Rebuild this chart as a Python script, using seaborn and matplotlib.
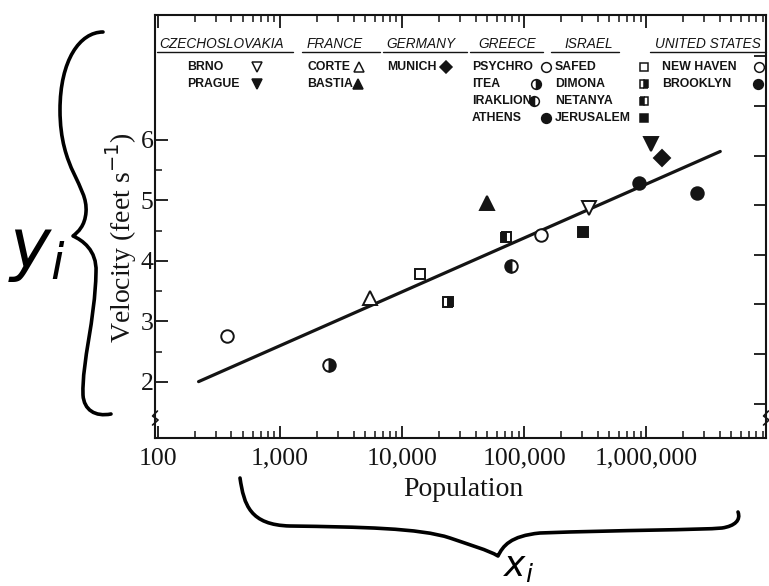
import numpy as np
import pandas as pd
import matplotlib
matplotlib.use("Agg")
import matplotlib.pyplot as plt
import seaborn as sns
from matplotlib.path import Path
from matplotlib.patches import PathPatch
from matplotlib.lines import Line2D
from matplotlib.ticker import FixedLocator, FuncFormatter, NullFormatter

# ---- data -------------------------------------------------------------
countries = ["CZECHOSLOVAKIA", "FRANCE", "GERMANY", "GREECE", "ISRAEL", "UNITED STATES"]
cities = ["BRNO", "PRAGUE", "CORTE", "BASTIA", "MUNICH",
          "PSYCHRO", "ITEA", "IRAKLION", "ATHENS",
          "SAFED", "DIMONA", "NETANYA", "JERUSALEM",
          "NEW HAVEN", "BROOKLYN"]
city_country = ["CZECHOSLOVAKIA", "CZECHOSLOVAKIA", "FRANCE", "FRANCE", "GERMANY",
                "GREECE", "GREECE", "GREECE", "GREECE",
                "ISRAEL", "ISRAEL", "ISRAEL", "ISRAEL",
                "UNITED STATES", "UNITED STATES"]
population = [342000, 1090000, 5500, 49400, 1340000,
              365, 2500, 78200, 867000,
              14000, 23700, 70700, 305000,
              138000, 2600000]
velocity = [4.88, 5.93, 3.39, 4.96, 5.71,
            2.76, 2.28, 3.92, 5.29,
            3.78, 3.32, 4.39, 4.48,
            4.43, 5.13]
marker_shape = ["v", "v", "^", "^", "D",
                "o", "o", "o", "o",
                "s", "s", "s", "s",
                "o", "o"]
marker_fill = ["none", "full", "none", "full", "full",
               "none", "right", "left", "full",
               "none", "right", "left", "full",
               "none", "full"]

# fitted line: velocity = slope * log10(population) + intercept
fit_slope = 0.89
fit_intercept = -0.07
fit_population = [215, 4050000]

x_ticks = [100, 1000, 10000, 100000, 1000000]
y_ticks = [2, 3, 4, 5, 6]
ms_ticks = [0.5, 0.75, 1.0, 1.25, 1.5, 1.75, 2.0, 2.25]  # metres per second

df = pd.DataFrame({"city": cities, "country": city_country,
                   "population": population, "velocity": velocity,
                   "marker": marker_shape, "fill": marker_fill})
fit_df = pd.DataFrame({"population": fit_population})
fit_df["velocity"] = fit_slope * np.log10(fit_df["population"]) + fit_intercept

# ---- figure -----------------------------------------------------------
sns.set_theme(style="ticks")
plt.rcParams["font.family"] = ["Liberation Serif", "DejaVu Serif"]
plt.rcParams["mathtext.fontset"] = "dejavusans"

W, H = 769, 586
fig = plt.figure(figsize=(W / 100, H / 100), dpi=100)
fig.patch.set_facecolor("white")
AX_L, AX_R, AX_T, AX_B = 155, 766, 15, 438
ax = fig.add_axes([AX_L / W, 1 - AX_B / H, (AX_R - AX_L) / W, (AX_B - AX_T) / H])
ax.set_facecolor("white")
ink = "#141414"


def axpt(px, py):
    """pixel position inside the figure -> axes fraction"""
    return (px - AX_L) / (AX_R - AX_L), 1 - (py - AX_T) / (AX_B - AX_T)


# regression line
sns.lineplot(data=fit_df, x="population", y="velocity", ax=ax,
             color=ink, lw=2.3, legend=False)

size_of = {"o": 9.0, "v": 10.0, "^": 10.0, "s": 7.2, "D": 8.2}


def marker_kw(shape, fill, scale=1.0):
    kw = dict(marker=shape, ms=size_of[shape] * scale, mec=ink, mew=1.4 * scale,
              linestyle="none")
    if fill == "none":
        kw.update(fillstyle="full", mfc="white")
    elif fill == "full":
        kw.update(fillstyle="full", mfc=ink)
    else:
        kw.update(fillstyle=fill, mfc=ink, markerfacecoloralt="white")
    return kw


for _, r in df.iterrows():
    ax.plot([r["population"]], [r["velocity"]], zorder=4,
            **marker_kw(r["marker"], r["fill"]))

ax.set_xscale("log")
ax.set_xlim(94.5, 9.6e6)
ax.set_ylim(1.074, 8.066)

# ticks
ax.xaxis.set_major_locator(FixedLocator(x_ticks + [1e7]))
ax.xaxis.set_major_formatter(FuncFormatter(lambda v, p: f"{int(round(v)):,}" if v < 5e6 else ""))
minor = [m * 10 ** e for e in range(1, 8) for m in range(2, 10)]
ax.xaxis.set_minor_locator(FixedLocator(minor))
ax.xaxis.set_minor_formatter(NullFormatter())
ax.yaxis.set_major_locator(FixedLocator(y_ticks))
ax.yaxis.set_minor_locator(FixedLocator([2.5, 3.5, 4.5, 5.5]))
ax.tick_params(axis="x", which="both", direction="in", top=True, bottom=True,
               color=ink, labelsize=18.5, labelcolor=ink, pad=7)
ax.tick_params(axis="x", which="major", length=9, width=1.3)
ax.tick_params(axis="x", which="minor", length=5, width=1.1)
ax.tick_params(axis="y", which="both", direction="in", left=True, right=False,
               color=ink, labelsize=18.5, labelcolor=ink, pad=1)
ax.tick_params(axis="y", which="major", length=9, width=1.3)
ax.tick_params(axis="y", which="minor", length=5, width=1.1)

sec = ax.secondary_yaxis("right", functions=(lambda v: v * 0.3048, lambda m: m / 0.3048))
sec.set_yticks(ms_ticks)
sec.tick_params(direction="in", length=9, width=1.3, color=ink, labelright=False)
sec.spines["right"].set_visible(False)

for s in ax.spines.values():
    s.set_color(ink)
    s.set_linewidth(1.5)

ax.set_xlabel("Population", fontsize=20, color=ink)
ax.xaxis.set_label_coords(*axpt(463, 490))
ax.xaxis.label.set_va("center")
ax.set_ylabel(r"Velocity (feet s$^{-1}$)", fontsize=20, color=ink)
ax.yaxis.set_label_coords(*axpt(121, 238))
ax.yaxis.label.set_va("center")

# small axis-break marks near the foot of both vertical spines
for xs in (0.0, 1.0):
    bx = [xs - 0.004, xs + 0.005, xs - 0.004, xs + 0.004]
    by = [axpt(0, 425)[1], axpt(0, 420)[1], axpt(0, 416)[1], axpt(0, 411)[1]]
    ax.add_line(Line2D(bx, by, transform=ax.transAxes, color=ink, lw=1.2, clip_on=False))

# ---- key: country headers with their cities ---------------------------
sans = ["Liberation Sans", "DejaVu Sans"]
header_pos = {"CZECHOSLOVAKIA": (159, 157, 293), "FRANCE": (307, 302, 380),
              "GERMANY": (386, 383, 467), "GREECE": (478, 470, 543),
              "ISRAEL": (564, 551, 619), "UNITED STATES": (655, 650, 766)}
entry_pos = {"BRNO": (187, 257), "PRAGUE": (187, 257),
             "CORTE": (307, 359), "BASTIA": (307, 358),
             "MUNICH": (387, 446),
             "PSYCHRO": (472, 546), "ITEA": (472, 536),
             "IRAKLION": (472, 534), "ATHENS": (472, 546),
             "SAFED": (555, 644), "DIMONA": (555, 644),
             "NETANYA": (555, 644), "JERUSALEM": (555, 644),
             "NEW HAVEN": (662, 759), "BROOKLYN": (662, 758)}
row_y = [67, 84, 101, 118]

for c in countries:
    tx, u0, u1 = header_pos[c]
    ax.text(*axpt(tx, 44), c, transform=ax.transAxes, family=sans, style="italic",
            fontsize=9.8, color=ink, va="center", ha="left")
    ax.add_line(Line2D([axpt(u0, 0)[0], axpt(u1, 0)[0]], [axpt(0, 52)[1]] * 2,
                       transform=ax.transAxes, color=ink, lw=1.0, clip_on=False))
    sub = df[df["country"] == c].reset_index(drop=True)
    for i, r in sub.iterrows():
        tx2, mx = entry_pos[r["city"]]
        ax.text(*axpt(tx2, row_y[i]), r["city"], transform=ax.transAxes, family=sans,
                fontsize=8.8, fontweight="bold", color=ink, va="center", ha="left")
        ax.plot(*[[v] for v in axpt(mx, row_y[i])], transform=ax.transAxes,
                clip_on=False, **marker_kw(r["marker"], r["fill"], 0.78))

# ---- pen annotations: braces with x_i and y_i --------------------------
def pen_path(points):
    verts = [(x, H - y) for x, y in points]
    codes = [Path.MOVETO] + [Path.CURVE4] * (len(verts) - 1)
    return Path(verts, codes)


left_brace = [(103, 32),
              (80, 32), (60, 60), (60, 110),
              (60, 170), (88, 185), (86, 212),
              (85, 226), (78, 232), (73, 236),
              (82, 240), (97, 250), (96, 272),
              (95, 322), (82, 360), (83, 395),
              (84, 410), (95, 417), (111, 414)]
bottom_brace = [(240, 478),
                (244, 505), (250, 525), (290, 526),
                (360, 527), (420, 528), (450, 538),
                (470, 545), (488, 550), (498, 556),
                (503, 546), (510, 536), (540, 533),
                (620, 530), (700, 530), (722, 528),
                (735, 526), (741, 520), (738, 512)]
for pts in (left_brace, bottom_brace):
    fig.add_artist(PathPatch(pen_path(pts), transform=None, fill=False,
                             ec="black", lw=2.6, capstyle="round", joinstyle="round"))

fig.text(8 / W, 1 - 268 / H, r"$y_i$", fontsize=50, color="black", ha="left", va="baseline")
fig.text(503 / W, 1 - 584 / H, r"$x_i$", fontsize=26, color="black", ha="left", va="bottom")

fig.savefig("out.png", dpi=100, facecolor="white")
